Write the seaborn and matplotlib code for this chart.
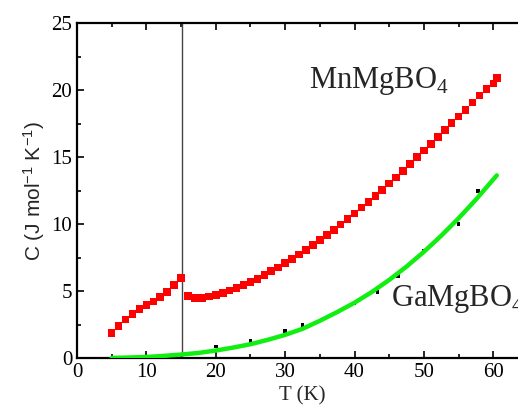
import matplotlib
matplotlib.use("Agg")
import matplotlib.pyplot as plt
import seaborn as sns
import pandas as pd
from matplotlib.ticker import MultipleLocator

# MnMgBO4 data
mn_T = [5, 6, 7, 8, 9, 10, 11, 12, 13, 14, 15,
        16, 17, 18, 19, 20, 21, 22, 23, 24, 25, 26, 27, 28, 29, 30,
        31, 32, 33, 34, 35, 36, 37, 38, 39, 40, 41, 42, 43, 44, 45,
        46, 47, 48, 49, 50, 51, 52, 53, 54, 55, 56, 57, 58, 59, 60, 60.5]
mn_C = [1.9, 2.43, 2.91, 3.31, 3.66, 3.96, 4.25, 4.57, 4.95, 5.45, 6.0,
        4.65, 4.5, 4.5, 4.6, 4.72, 4.88, 5.05, 5.25, 5.47, 5.7, 5.93, 6.2, 6.5, 6.78, 7.1,
        7.4, 7.75, 8.1, 8.45, 8.82, 9.2, 9.58, 9.98, 10.4, 10.82, 11.25, 11.68, 12.12, 12.58, 13.05,
        13.5, 14.0, 14.5, 15.0, 15.5, 16.0, 16.52, 17.03, 17.55, 18.05, 18.55, 19.08, 19.6, 20.1, 20.5, 20.9]

# GaMgBO4 data
ga_T = [20, 25, 30, 32.5, 40, 43.3, 46.3, 50, 55, 57.8]
ga_C = [0.87, 1.29, 2.04, 2.5, 4.1, 4.97, 6.14, 8.03, 10.0, 12.49]

# fit curve
fit_T = [5, 7.5, 10, 12.5, 15, 17.5, 20, 22.5, 25, 27.5, 30, 32.5, 35, 37.5, 40,
         42.5, 45, 47.5, 50, 52.5, 55, 57.5, 60.5]
fit_C = [0.03, 0.06, 0.1, 0.18, 0.28, 0.4, 0.58, 0.8, 1.05, 1.38, 1.75, 2.2, 2.8, 3.45, 4.15,
         4.95, 5.85, 6.85, 7.95, 9.15, 10.45, 11.85, 13.65]

T_N = 15.1

sns.set_theme(style="ticks")
plt.rcParams['font.family'] = ['Liberation Serif', 'DejaVu Serif']
plt.rcParams['mathtext.fontset'] = 'custom'
plt.rcParams['mathtext.rm'] = 'Liberation Serif'
plt.rcParams['mathtext.sf'] = 'Liberation Sans'

fig = plt.figure(figsize=(5.18, 4.12), dpi=100)
ax = fig.add_axes([77/518, (412-358.3)/412, 451/518, (358.3-23.3)/412])

mn = pd.DataFrame({"T": mn_T, "C": mn_C})
ga = pd.DataFrame({"T": ga_T, "C": ga_C})
fit = pd.DataFrame({"T": fit_T, "C": fit_C})

ax.axvline(T_N, color="#444444", lw=1.0, zorder=1)
sns.scatterplot(data=ga, x="T", y="C", ax=ax, marker="s", s=7, color="black",
                edgecolor="none", zorder=2)
sns.lineplot(data=fit, x="T", y="C", ax=ax, color="#11ee11", lw=3.2, zorder=3)
sns.scatterplot(data=mn, x="T", y="C", ax=ax, marker="s", s=30, color="#ff0000",
                edgecolor="none", zorder=4)

ax.set_xlim(0, 65)
ax.set_ylim(0, 25)
ax.xaxis.set_major_locator(MultipleLocator(10))
ax.xaxis.set_minor_locator(MultipleLocator(5))
ax.yaxis.set_major_locator(MultipleLocator(5))
ax.yaxis.set_minor_locator(MultipleLocator(2.5))
ax.tick_params(which="both", direction="in", top=True, right=False, width=1.2,
               labelsize=15, colors="black")
ax.tick_params(which="major", length=5)
ax.tick_params(which="minor", length=3)
for sp in ["left", "bottom", "top"]:
    ax.spines[sp].set_linewidth(1.6)
    ax.spines[sp].set_color("black")
ax.spines["right"].set_visible(False)

ax.set_xlabel("T (K)", fontsize=15, labelpad=3)
ax.set_ylabel("C (J mol$\\mathsf{^{-1}}$ K$\\mathsf{^{-1}}$)", fontsize=15,
              family=['Liberation Sans'], labelpad=3)

ax.text(33.5, 20.2, "MnMgBO$_4$", fontsize=22, ha="left", va="baseline")
ax.text(45.2, 3.9, "GaMgBO$_4$", fontsize=22, ha="left", va="baseline")

fig.savefig("out.png", dpi=100)
